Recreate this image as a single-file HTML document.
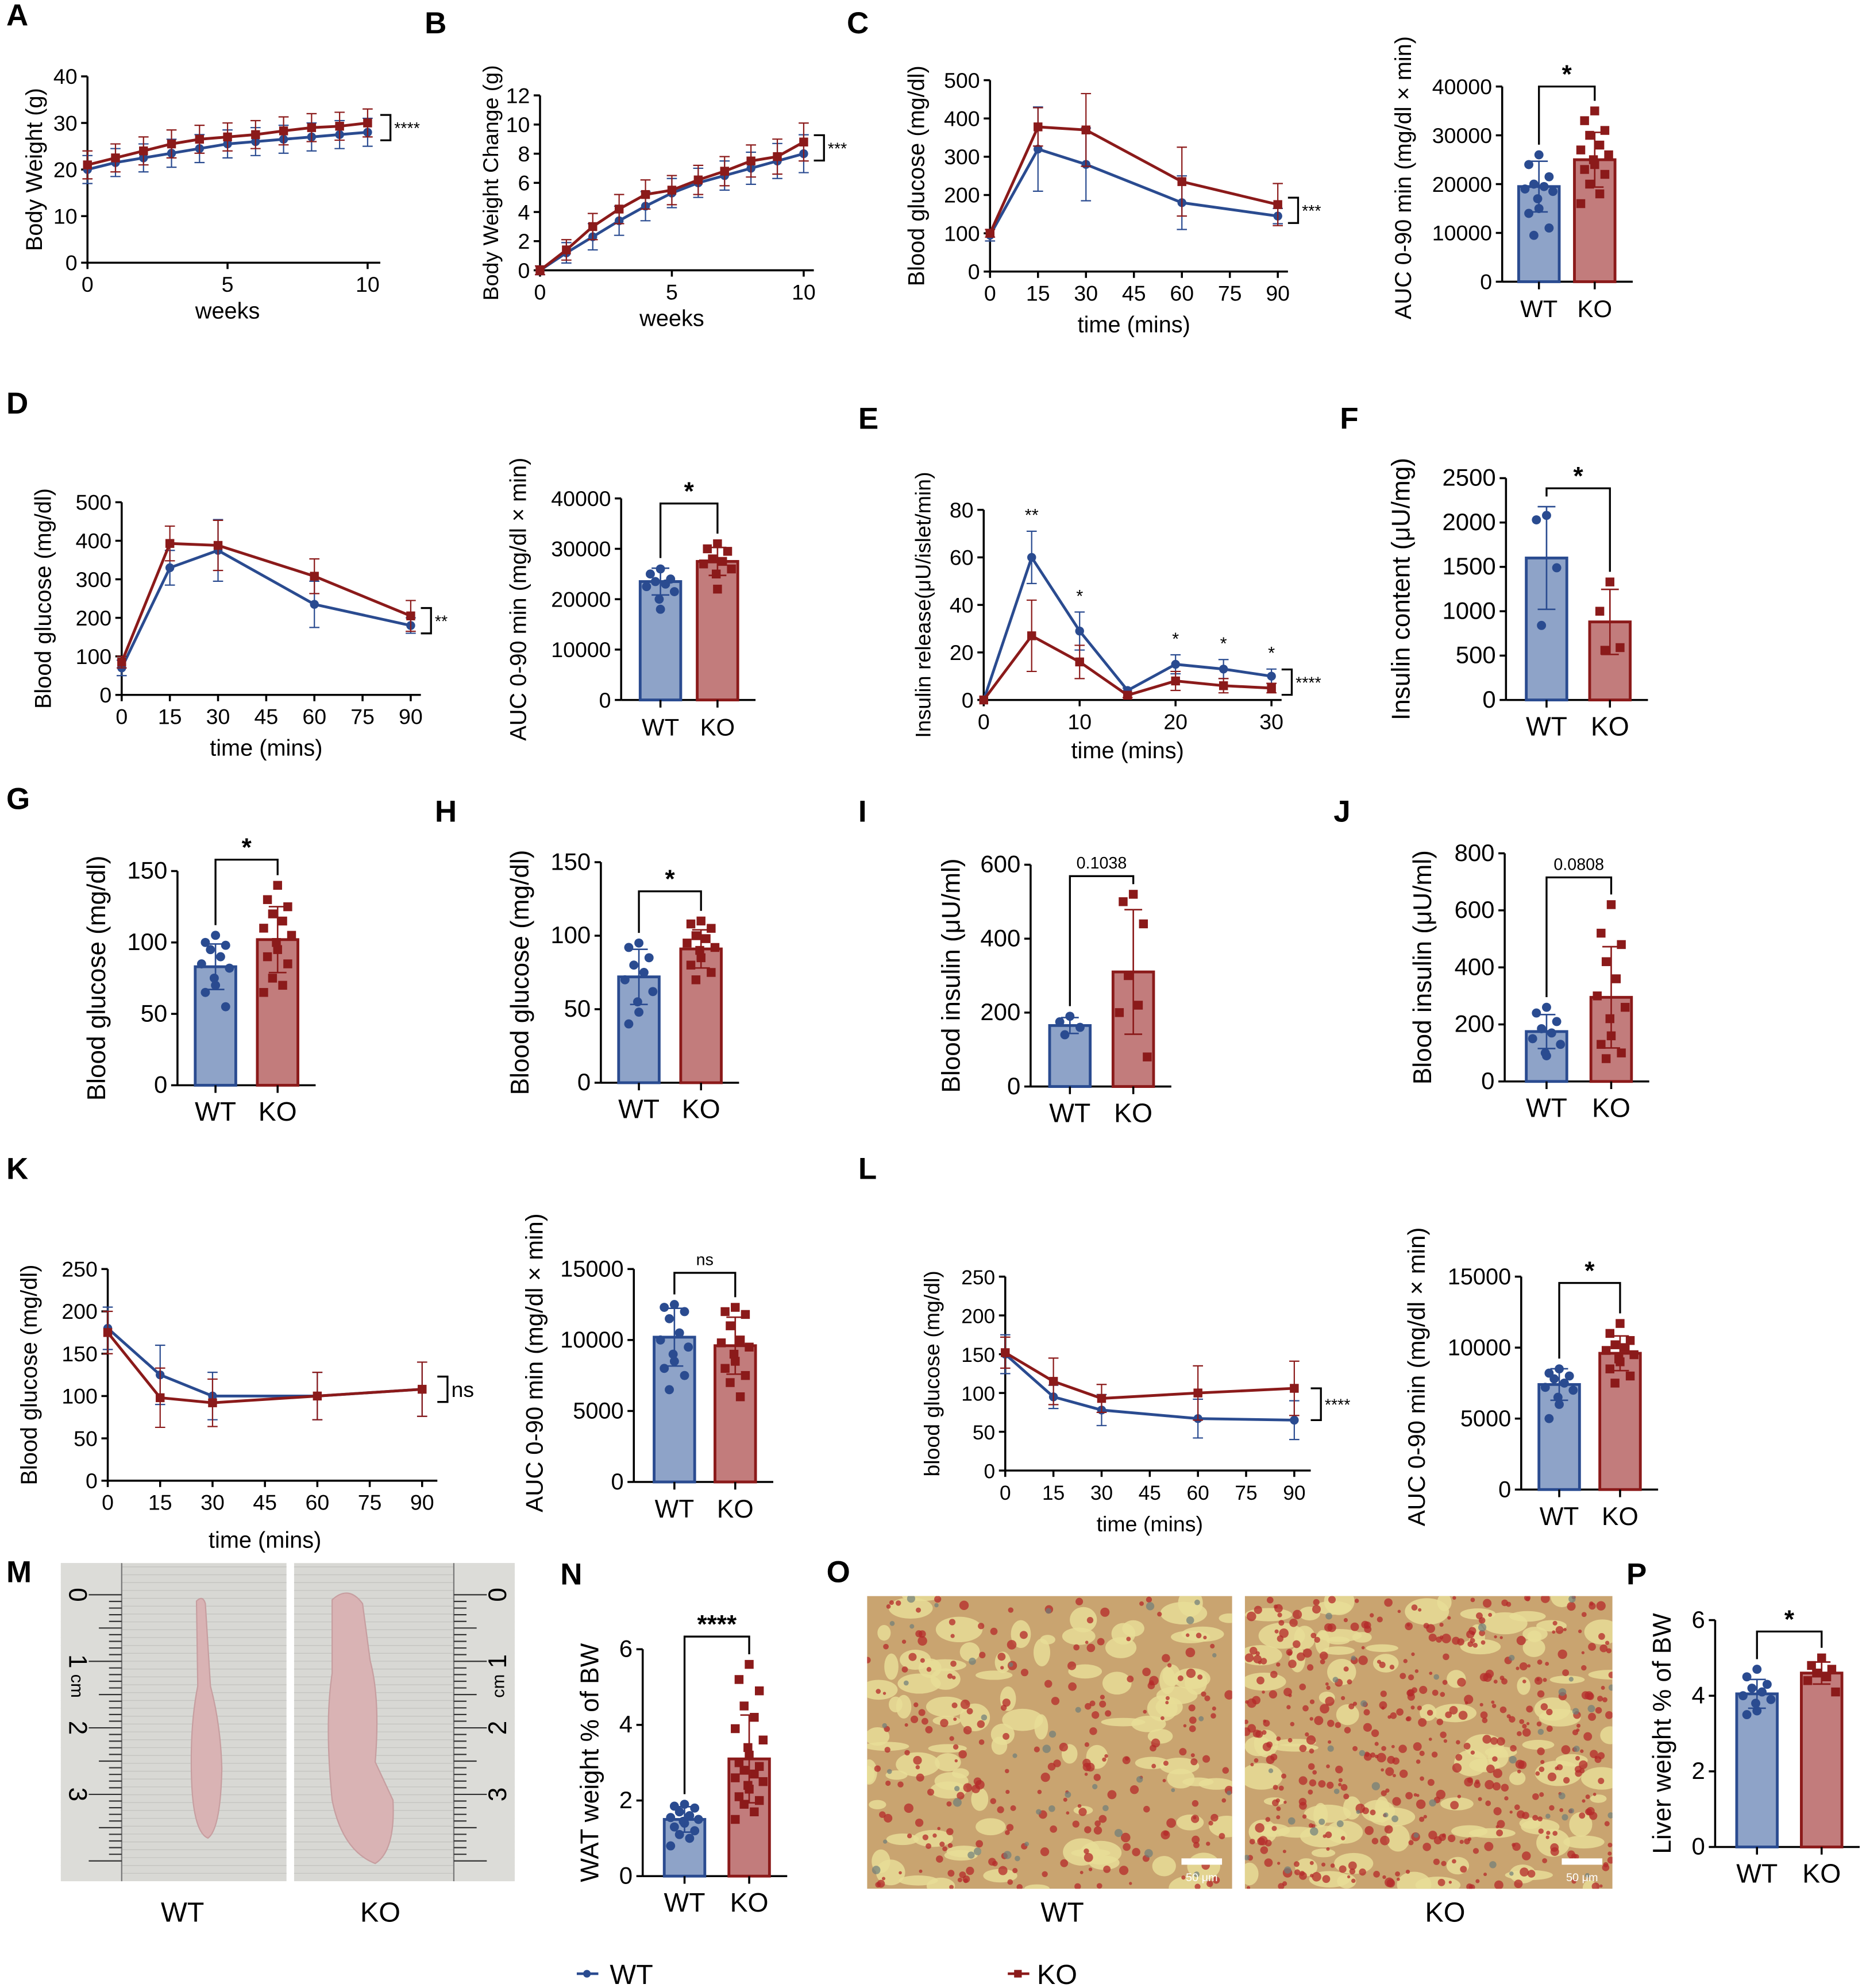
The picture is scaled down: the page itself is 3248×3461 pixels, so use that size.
<!DOCTYPE html>
<html><head><meta charset="utf-8"><style>
html,body{margin:0;padding:0;background:#fff;}
svg{display:block;font-family:"Liberation Sans",Arial,sans-serif;}
</style></head><body>
<svg id="fig" width="3248" height="3461" viewBox="0 0 1472 1568" xmlns="http://www.w3.org/2000/svg"></svg>
<script>
// ---------- DATA ----------
const weeks = [0,1,2,3,4,5,6,7,8,9,10];
const aWT = [20,21.5,22.5,23.5,24.5,25.5,26,26.5,27,27.5,28];
const aKO = [21,22.5,24,25.5,26.5,27,27.5,28.3,29,29.3,30];
const aErr = [3,3,3,3,3,3,3,3,3,3,3];
const bWT = [0,1.2,2.3,3.4,4.4,5.3,6,6.5,7,7.5,8];
const bKO = [0,1.4,3,4.2,5.2,5.5,6.2,6.8,7.5,7.8,8.8];
const bErr = [0.3,0.7,0.9,1,1,1,1,1,1.1,1.2,1.3];
const gttTimes = [0,15,30,60,90];
const cWT = [95,320,280,180,145];
const cKO = [100,378,370,235,175];
const cWTerr = [15,110,95,70,20];
const cKOerr = [10,50,95,90,55];
const dWT = [70,330,375,235,180];
const dKO = [85,393,388,308,205];
const dWTerr = [20,45,80,60,20];
const dKOerr = [15,45,65,45,40];
const eTimes = [0,5,10,15,20,25,30];
const eWT = [0,60,29,4,15,13,10];
const eKO = [0,27,16,2,8,6,5];
const eWTerr = [0,11,8,1,4,4,3];
const eKOerr = [0,15,7,1,4,3,2];
const kWT = [180,125,100,100,108];
const kKO = [175,98,92,100,108];
const kErr = [25,35,28,28,32];
const lWT = [150,95,78,67,65];
const lKO = [152,115,93,100,106];
const lWTerr = [25,15,20,25,25];
const lKOerr = [20,30,18,35,35];
// bar panels: means and dots
const cBarMeans = [19500,25000];
const cBarWT = [26000,24000,21500,20000,19500,19000,18500,17000,15000,14000,11000,9500];
const cBarKO = [35000,33000,31000,30000,28000,27000,26000,25000,24000,23000,22000,20000,18000,16000];
const dBarMeans = [23500,27500];
const dBarWT = [26000,25000,24000,23500,23000,22500,21500,20000,18000];
const dBarKO = [31000,30000,29500,28000,27500,27000,26000,25000,22000];
const fMeans = [1600,880];
const fWT = [2080,2030,1490,840];
const fKO = [1330,1000,590,560];
const gMeans = [83,102];
const gWT = [105,100,98,95,90,85,82,75,70,65,55];
const gKO = [140,130,125,120,115,110,105,100,95,90,85,75,70,65];
const hMeans = [72,91];
const hWT = [95,92,85,80,75,70,62,55,48,40];
const hKO = [110,108,105,100,98,95,92,90,85,80,75,70];
const iMeans = [165,310];
const iWT = [190,175,160,140];
const iKO = [520,500,440,300,220,200,80];
const jMeans = [175,295];
const jWT = [260,240,210,185,170,150,130,100,90];
const jKO = [620,520,480,420,360,300,260,220,160,130,100,80];
const kBarMeans = [10200,9600];
const kBarWT = [12500,12300,12000,11500,10500,10000,9500,9000,8500,8000,7500,6500];
const kBarKO = [12300,12000,11800,11000,10000,9800,9500,9000,8500,8000,7500,7000,6000];
const lBarMeans = [7400,9600];
const lBarWT = [8500,8200,8000,7800,7500,7200,7000,6500,6000,5000];
const lBarKO = [11700,11000,10500,10200,10000,9800,9500,9200,9000,8500,8000,7500];
const nMeans = [1.5,3.1];
const nWT = [1.9,1.85,1.8,1.7,1.6,1.55,1.5,1.45,1.4,1.3,1.2,1.1,1.0,0.8];
const nKO = [5.6,5.2,4.9,4.5,4.2,3.9,3.6,3.4,3.2,3.0,2.9,2.8,2.7,2.6,2.5,2.4,2.3,2.1,2.0,1.9,1.7,1.5];
const pMeans = [4.05,4.6];
const pWT = [4.7,4.5,4.3,4.2,4.1,4.0,3.9,3.8,3.6,3.5];
const pKO = [5.0,4.8,4.7,4.6,4.5,4.4,4.1];

// ---------- HELPERS ----------
const NS='http://www.w3.org/2000/svg';
const svg=document.getElementById('fig');
const BLUE='#2a4b90', RED='#8b1a1a', BFILL='#8ea3c8', RFILL='#c27c7c';
function mk(tag,attrs,parent,name,inter){
  const e=document.createElementNS(NS,tag);
  for(const k in attrs) e.setAttribute(k,attrs[k]);
  
  
  (parent||svg).appendChild(e);return e;
}
function txt(x,y,s,size,parent,name,extra){
  const a=Object.assign({x:x,y:y,'font-size':size,'text-anchor':'middle',fill:'#000'},extra||{});
  const t=mk('text',a,parent,name);t.textContent=s;return t;
}
function line(x1,y1,x2,y2,parent,name,stroke,w){
  return mk('line',{x1:x1,y1:y1,x2:x2,y2:y2,stroke:stroke||'#000','stroke-width':w||1.6},parent,name);
}
function ytitle(x,y,s,size,parent){
  return txt(x,y,s,size,parent,'y-axis-title',{transform:'rotate(-90 '+x+' '+y+')'});
}
function letter(x,y,s){txt(x,y,s,24,svg,'panel-label-'+s.toLowerCase(),{'font-weight':'bold','text-anchor':'start'});}

function lineChart(o){
  const g=mk('g',{},svg,o.name);
  const sx=v=>o.x0+(v-o.xmin)/(o.xmax-o.xmin)*(o.x1-o.x0);
  const sy=v=>o.y0-(v/o.ymax)*(o.y0-o.y1);
  const fs=o.fs||17;
  line(o.x0,o.y0,o.x0,o.y1,g,'y-axis');
  line(o.x0,o.y0,o.xend||o.x1+8,o.y0,g,'x-axis');
  o.yticks.forEach(v=>{line(o.x0-5,sy(v),o.x0,sy(v),g,'y-tick');txt(o.x0-8,sy(v)+6,v,fs,g,'y-tick-label',{'text-anchor':'end'});});
  o.xticks.forEach(v=>{line(sx(v),o.y0,sx(v),o.y0+5,g,'x-tick');txt(sx(v),o.y0+23,v,fs,g,'x-tick-label');});
  txt((o.x0+o.x1)/2,o.y0+o.xlOff,o.xlabel,fs+1,g,'x-axis-title');
  ytitle(o.x0-o.ylOff,(o.y0+o.y1)/2,o.ylabel,o.ylfs||fs+1,g);
  [[o.wt,o.wtErr,BLUE,'wt'],[o.ko,o.koErr,RED,'ko']].forEach(([d,err,c,nm])=>{
    const pts=d.map((v,i)=>sx(o.xs[i])+','+sy(v)).join(' ');
    mk('polyline',{points:pts,fill:'none',stroke:c,'stroke-width':2.2},g,'line-'+nm);
    d.forEach((v,i)=>{
      const x=sx(o.xs[i]);
      if(err[i]>0){
        line(x,sy(v+err[i]),x,sy(v-err[i]),g,'error-bar-'+nm,c,1);
        line(x-4,sy(v+err[i]),x+4,sy(v+err[i]),g,'error-cap-'+nm,c,1);
        line(x-4,sy(v-err[i]),x+4,sy(v-err[i]),g,'error-cap-'+nm,c,1);
      }
      if(nm==='wt') mk('circle',{cx:x,cy:sy(v),r:3.5,fill:c},g,'point-wt');
      else mk('rect',{x:x-3.5,y:sy(v)-3.5,width:7,height:7,fill:c},g,'point-ko');
    });
  });
  if(o.sig){
    const x=o.sigX;
    let yA=sy(o.ko[o.ko.length-1]), yB=sy(o.wt[o.wt.length-1]);
    if(Math.abs(yA-yB)<20){const m=(yA+yB)/2;yA=m-10;yB=m+10;}
    mk('path',{d:'M'+x+' '+yA+' H'+(x+8)+' V'+yB+' H'+x,fill:'none',stroke:'#000','stroke-width':1.5},g,'significance-bracket');
    txt(x+11,(yA+yB)/2+(o.sig==='ns'?6:5),o.sig,o.sig==='ns'?17:13,g,'significance-label',{'text-anchor':'start'});
  }
  return {g,sx,sy};
}

function barChart(o){
  const g=mk('g',{},svg,o.name);
  const sy=v=>o.y0-(v/o.ymax)*(o.y0-o.y1);
  const fs=o.fs||18;
  const bw=o.bw||32;
  line(o.ax,o.y0,o.ax,o.y1,g,'y-axis');
  line(o.ax,o.y0,o.cx[1]+bw/2+14,o.y0,g,'x-axis');
  o.yticks.forEach(v=>{line(o.ax-5,sy(v),o.ax,sy(v),g,'y-tick');txt(o.ax-8,sy(v)+6,v,fs,g,'y-tick-label',{'text-anchor':'end'});});
  ytitle(o.ax-o.ylOff,(o.y0+o.y1)/2+(o.ylShift||0),o.ylabel,o.ylfs||fs+1,g);
  const groups=[[o.wt,BFILL,BLUE,'wt','WT'],[o.ko,RFILL,RED,'ko','KO']];
  let tops=[];
  groups.forEach(([d,fill,c,nm,lab],gi)=>{
    const cx=o.cx[gi], m=o.means[gi];
    const sd=Math.sqrt(d.reduce((a,v)=>a+(v-m)*(v-m),0)/(d.length-1));
    mk('rect',{x:cx-bw/2,y:sy(m),width:bw,height:o.y0-sy(m),fill:fill,stroke:c,'stroke-width':2.2},g,'bar-'+nm);
    line(cx,o.y0,cx,o.y0+6,g,'x-tick');
    txt(cx,o.y0+28,lab,fs+2,g,'x-tick-label-'+nm);
    d.forEach((v,i)=>{
      const pat=[0,-8,8,-4,4,-11,11,-1];
      const off=pat[i%pat.length]*(bw/32);
      if(nm==='wt') mk('circle',{cx:cx+off,cy:sy(v),r:3.6,fill:c},g,'dot-wt');
      else mk('rect',{x:cx+off-3.5,y:sy(v)-3.5,width:7,height:7,fill:c},g,'dot-ko');
    });
    const ec=nm==='wt'?BLUE:RED;
    line(cx,sy(m+sd),cx,sy(Math.max(m-sd,0)),g,'error-bar-'+nm,ec,1.2);
    line(cx-7,sy(m+sd),cx+7,sy(m+sd),g,'error-cap-'+nm,ec,1.2);
    line(cx-7,sy(Math.max(m-sd,0)),cx+7,sy(Math.max(m-sd,0)),g,'error-cap-'+nm,ec,1.2);
    tops.push(Math.min(sy(m+sd),sy(Math.max(...d))));
  });
  const by=o.brY;
  mk('path',{d:'M'+o.cx[0]+' '+(tops[0]-8)+' V'+by+' H'+o.cx[1]+' V'+(tops[1]-8),fill:'none',stroke:'#000','stroke-width':1.5},g,'significance-bracket');
  const big=o.sig.indexOf('*')>=0;
  txt((o.cx[0]+o.cx[1])/2,by-(big?3:6),o.sig,big?20:13,g,'significance-label',big?{'font-weight':'bold'}:{});
}

// ---------- PANEL LETTERS ----------
[['A',5,20],['B',335,26],['C',668,26],['D',5,326],['E',677,338],['F',1057,338],['G',5,638],['H',343,648],['I',677,648],['J',1052,648],['K',5,930],['L',677,930],['M',5,1248],['N',442,1250],['O',652,1248],['P',1283,1250]].forEach(a=>letter(a[1],a[2],a[0]));

// ---------- LINE CHARTS ----------
lineChart({name:'chart-a-body-weight',x0:69,x1:290,xmin:0,xmax:10,y0:207,y1:60,ymax:40,xs:weeks,wt:aWT,ko:aKO,wtErr:aErr,koErr:aErr,
  xticks:[0,5,10],yticks:[0,10,20,30,40],xlabel:'weeks',xlOff:44,ylabel:'Body Weight (g)',ylOff:36,sig:'****',sigX:300,xend:300});
lineChart({name:'chart-b-body-weight-change',x0:426,x1:634,xmin:0,xmax:10,y0:213,y1:75,ymax:12,xs:weeks,wt:bWT,ko:bKO,wtErr:bErr,koErr:bErr,
  xticks:[0,5,10],yticks:[0,2,4,6,8,10,12],xlabel:'weeks',xlOff:44,ylabel:'Body Weight Change (g)',ylOff:33,ylfs:17,sig:'***',sigX:642,xend:642});
lineChart({name:'chart-c-gtt',x0:781,x1:1008,xmin:0,xmax:90,y0:214,y1:63,ymax:500,xs:gttTimes,wt:cWT,ko:cKO,wtErr:cWTerr,koErr:cKOerr,
  xticks:[0,15,30,45,60,75,90],yticks:[0,100,200,300,400,500],xlabel:'time (mins)',xlOff:48,ylabel:'Blood glucose (mg/dl)',ylOff:52,sig:'***',sigX:1016,xend:1016});
lineChart({name:'chart-d-gtt',x0:96,x1:324,xmin:0,xmax:90,y0:548,y1:396,ymax:500,xs:gttTimes,wt:dWT,ko:dKO,wtErr:dWTerr,koErr:dKOerr,
  xticks:[0,15,30,45,60,75,90],yticks:[0,100,200,300,400,500],xlabel:'time (mins)',xlOff:48,ylabel:'Blood glucose (mg/dl)',ylOff:56,sig:'**',sigX:332,xend:332});
const E=lineChart({name:'chart-e-insulin-release',x0:776,x1:1003,xmin:0,xmax:30,y0:552,y1:402,ymax:80,xs:eTimes,wt:eWT,ko:eKO,wtErr:eWTerr,koErr:eKOerr,
  xticks:[0,10,20,30],yticks:[0,20,40,60,80],xlabel:'time (mins)',xlOff:46,ylabel:'Insulin release(μU/islet/min)',ylOff:42,ylfs:17,sig:'****',sigX:1011,xend:1011});
[[5,'**'],[10,'*'],[20,'*'],[25,'*'],[30,'*']].forEach(([t,s])=>{
  const i=eTimes.indexOf(t);
  txt(E.sx(t),E.sy(eWT[i]+eWTerr[i])-8,s,14,E.g,'timepoint-significance');
});
lineChart({name:'chart-k-itt',x0:85,x1:333,xmin:0,xmax:90,y0:1168,y1:1001,ymax:250,xs:gttTimes,wt:kWT,ko:kKO,wtErr:kErr,koErr:kErr,
  xticks:[0,15,30,45,60,75,90],yticks:[0,50,100,150,200,250],xlabel:'time (mins)',xlOff:53,ylabel:'Blood glucose (mg/dl)',ylOff:56,sig:'ns',sigX:345,xend:345});
lineChart({name:'chart-l-itt',x0:793,x1:1021,xmin:0,xmax:90,y0:1160,y1:1007,ymax:250,xs:gttTimes,wt:lWT,ko:lKO,wtErr:lWTerr,koErr:lKOerr,
  xticks:[0,15,30,45,60,75,90],yticks:[0,50,100,150,200,250],xlabel:'time (mins)',xlOff:48,ylabel:'blood glucose (mg/dl)',ylOff:52,ylfs:17,sig:'****',sigX:1034,xend:1034,fs:16});

// ---------- BAR CHARTS ----------
barChart({name:'chart-c-auc',ax:1185,y0:222,y1:68,ymax:40000,cx:[1214,1258],means:cBarMeans,wt:cBarWT,ko:cBarKO,yticks:[0,10000,20000,30000,40000],ylabel:'AUC 0-90 min (mg/dl × min)',ylOff:72,ylShift:-5,sig:'*',brY:68,fs:17});
barChart({name:'chart-d-auc',ax:490,y0:552,y1:393,ymax:40000,cx:[521,566],means:dBarMeans,wt:dBarWT,ko:dBarKO,yticks:[0,10000,20000,30000,40000],ylabel:'AUC 0-90 min (mg/dl × min)',ylOff:75,sig:'*',brY:397,fs:17});
barChart({name:'chart-f-insulin-content',ax:1188,y0:552,y1:377,ymax:2500,cx:[1220,1270],means:fMeans,wt:fWT,ko:fKO,yticks:[0,500,1000,1500,2000,2500],ylabel:'Insulin content (μU/mg)',ylOff:76,sig:'*',brY:385,fs:19});
barChart({name:'chart-g-blood-glucose',ax:140,y0:856,y1:687,ymax:150,cx:[170,219],means:gMeans,wt:gWT,ko:gKO,yticks:[0,50,100,150],ylabel:'Blood glucose (mg/dl)',ylOff:57,sig:'*',brY:678,fs:19});
barChart({name:'chart-h-blood-glucose',ax:474,y0:854,y1:680,ymax:150,cx:[504,553],means:hMeans,wt:hWT,ko:hKO,yticks:[0,50,100,150],ylabel:'Blood glucose (mg/dl)',ylOff:57,sig:'*',brY:703,fs:19});
barChart({name:'chart-i-blood-insulin',ax:813,y0:857,y1:682,ymax:600,cx:[844,894],means:iMeans,wt:iWT,ko:iKO,yticks:[0,200,400,600],ylabel:'Blood insulin (μU/ml)',ylOff:56,sig:'0.1038',brY:691,fs:19});
barChart({name:'chart-j-blood-insulin',ax:1187,y0:853,y1:673,ymax:800,cx:[1220,1271],means:jMeans,wt:jWT,ko:jKO,yticks:[0,200,400,600,800],ylabel:'Blood insulin (μU/ml)',ylOff:58,sig:'0.0808',brY:692,fs:19});
barChart({name:'chart-k-auc',ax:500,y0:1169,y1:1001,ymax:15000,cx:[532,580],means:kBarMeans,wt:kBarWT,ko:kBarKO,yticks:[0,5000,10000,15000],ylabel:'AUC 0-90 min (mg/dl × min)',ylOff:72,ylShift:-10,sig:'ns',brY:1004,fs:18});
barChart({name:'chart-l-auc',ax:1200,y0:1175,y1:1007,ymax:15000,cx:[1230,1278],means:lBarMeans,wt:lBarWT,ko:lBarKO,yticks:[0,5000,10000,15000],ylabel:'AUC 0-90 min (mg/dl × min)',ylOff:76,ylShift:-5,sig:'*',brY:1012,fs:18});
barChart({name:'chart-n-wat-weight',ax:507,y0:1480,y1:1301,ymax:6,cx:[540,591],means:nMeans,wt:nWT,ko:nKO,yticks:[0,2,4,6],ylabel:'WAT weight % of BW',ylOff:35,sig:'****',brY:1291,fs:19});
barChart({name:'chart-p-liver-weight',ax:1353,y0:1457,y1:1278,ymax:6,cx:[1386,1437],means:pMeans,wt:pWT,ko:pKO,yticks:[0,2,4,6],ylabel:'Liver weight % of BW',ylOff:35,sig:'*',brY:1287,fs:19});

// ---------- PHOTOS (M) ----------
function photo(x,w,name,tissue,rulerLeft,flip){
  const g=mk('g',{},svg,name);
  mk('rect',{x:x,y:1233,width:w,height:251,fill:'#d8d8d4'},g,'photo-background');
  for(let i=0;i<40;i++) line(x,1236+i*6.2,x+w,1236+i*6.2,g,'paper-texture','#c4c4c0',0.6);
  const rx=rulerLeft?x:x+w-48;
  mk('rect',{x:rx,y:1233,width:48,height:251,fill:'#dcdcd8'},g,'ruler');
  const edge=rulerLeft?rx+48:rx;
  line(edge,1233,edge,1484,g,'ruler-edge','#777',1);
  for(let i=0;i<=40;i++){
    const y=1258+i*5.25; const len=i%10===0?26:(i%5===0?18:10);
    line(rulerLeft?edge-len:edge,y,rulerLeft?edge:edge+len,y,g,'ruler-tick','#333',1);
  }
  ['0','1','2','3'].forEach((s,k)=>{
    const y=1258+k*52.5, tx=rulerLeft?x+12:x+w-12;
    txt(tx,y,s,20,g,'ruler-number',{transform:'rotate('+(flip?-90:90)+' '+tx+' '+y+')','dominant-baseline':'middle'});
  });
  const cm=rulerLeft?x+12:x+w-12;
  txt(cm,1330,'cm',14,g,'ruler-unit',{transform:'rotate('+(flip?-90:90)+' '+cm+' 1330)','dominant-baseline':'middle'});
  mk('path',{d:tissue,fill:'#d9b3b4',stroke:'#c79ea0','stroke-width':1},g,'tissue');
}
photo(48,178,'photo-wt-fat','M155 1263 Q160 1258 162 1265 L166 1330 Q174 1360 175 1395 Q174 1443 164 1450 Q152 1445 151 1400 Q150 1360 156 1330 Z',true,false);
photo(232,174,'photo-ko-fat','M262 1262 Q275 1250 286 1265 L292 1310 Q300 1340 296 1390 L310 1420 Q312 1460 296 1470 Q270 1460 262 1420 Q256 1360 262 1320 Z',false,true);
txt(144,1516,'WT',22,svg,'photo-label-wt');
txt(300,1516,'KO',22,svg,'photo-label-ko');

// ---------- HISTOLOGY (O) ----------
const defs=mk('defs',{},svg,'defs');
function histo(x,w,name,redDensity){
  const cp=mk('clipPath',{id:'clip-'+name},defs,'clip');
  mk('rect',{x:x,y:1259,width:w,height:231},cp,'clip-rect');
  const g=mk('g',{'clip-path':'url(#clip-'+name+')'},svg,name);
  mk('rect',{x:x,y:1259,width:w,height:231,fill:'#c9a470'},g,'histology-background');
  let s=name.length*97+13;
  const rnd=()=>{s=(s*9301+49297)%233280;return s/233280;};
  for(let i=0;i<90;i++){
    mk('ellipse',{cx:x+rnd()*w,cy:1259+rnd()*231,rx:5+rnd()*14,ry:3+rnd()*8,fill:'#e8dd96',opacity:0.85},g,'lipid-space');
  }
  for(let i=0;i<redDensity;i++){
    mk('circle',{cx:x+rnd()*w,cy:1259+rnd()*231,r:1.2+rnd()*2.6,fill:'#b42a2a',opacity:0.75},g,'lipid-droplet');
  }
  for(let i=0;i<40;i++){
    mk('circle',{cx:x+rnd()*w,cy:1259+rnd()*231,r:1.5+rnd()*2,fill:'#6e7d7a',opacity:0.7},g,'nucleus');
  }
  mk('rect',{x:x+w-40,y:1466,width:32,height:5,fill:'#fff'},g,'scale-bar');
  txt(x+w-24,1484,'50 μm',9,g,'scale-bar-label',{fill:'#fff'});
}
histo(684,288,'histology-wt',240);
histo(982,290,'histology-ko-sample',480);
txt(838,1516,'WT',22,svg,'histology-label-wt');
txt(1140,1516,'KO',22,svg,'histology-label-ko');

// ---------- LEGEND ----------
const lg=mk('g',{},svg,'legend');
line(455,1557,472,1557,lg,'legend-line-wt',BLUE,2);
mk('circle',{cx:463,cy:1557,r:3,fill:BLUE},lg,'legend-marker-wt');
txt(481,1565,'WT',22,lg,'legend-label-wt',{'text-anchor':'start'});
line(795,1557,812,1557,lg,'legend-line-ko',RED,2);
mk('rect',{x:800,y:1554,width:6,height:6,fill:RED},lg,'legend-marker-ko');
txt(818,1565,'KO',22,lg,'legend-label-ko',{'text-anchor':'start'});
</script>
</body></html>
